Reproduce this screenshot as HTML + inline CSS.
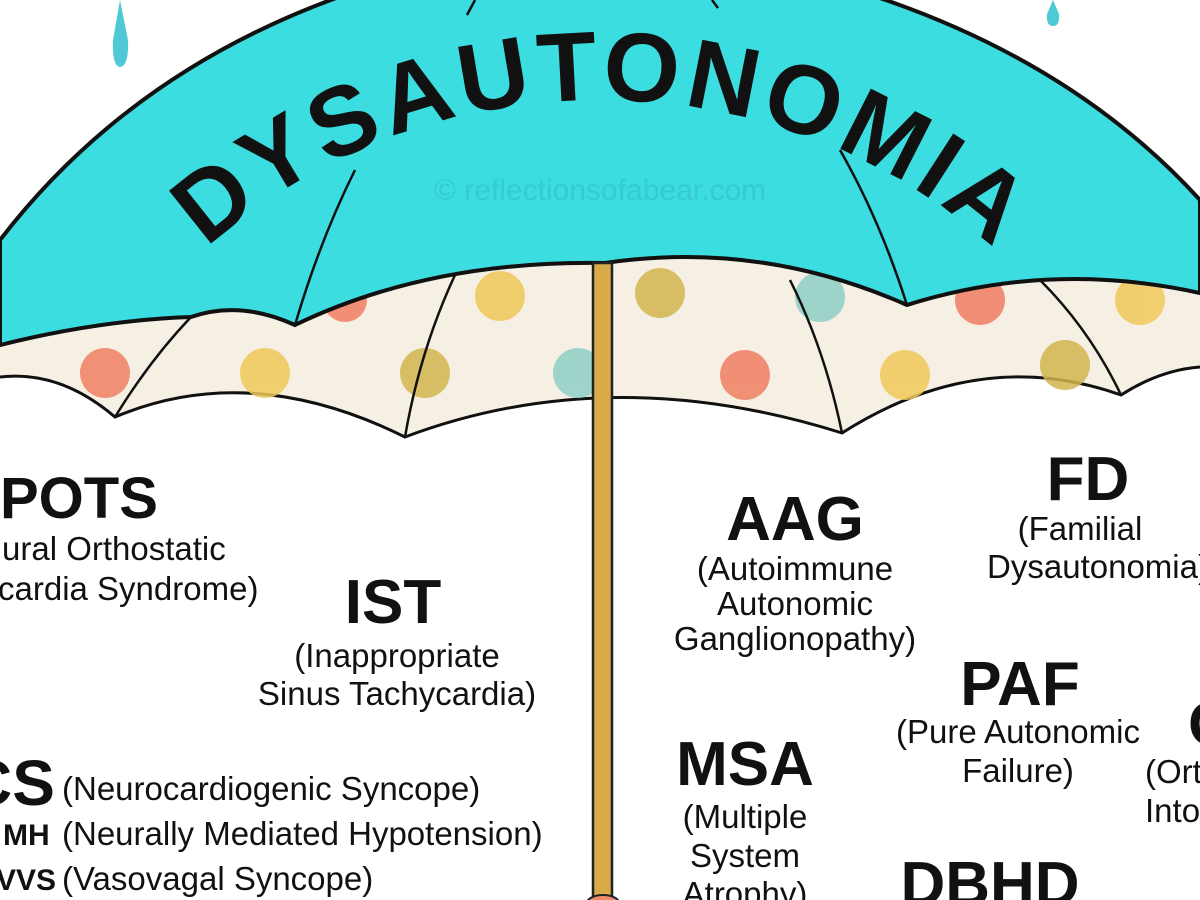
<!DOCTYPE html>
<html><head><meta charset="utf-8"><style>
html,body{margin:0;padding:0;background:#fff;}
svg{display:block}
text{font-family:"Liberation Sans",Arial,sans-serif;fill:#111}
.b{font-weight:bold}
.s{font-size:33px}
</style></head><body>
<svg width="1200" height="900" viewBox="0 0 1200 900" xmlns="http://www.w3.org/2000/svg">
<rect width="1200" height="900" fill="#fff"/>
<path d="M120 0 L113 40 Q112 66 120 67 Q129 66 128 40 Z" fill="#4fc9d3"/>
<path d="M1053 0 L1047 14 Q1046 26 1053 26 Q1060 26 1059 14 Z" fill="#4fc9d3"/>
<!-- polka underside -->
<path d="M0 340 L190 310 L600 255 L1200 270 L1200 367 Q1160 370 1121 395 Q980 345 842 433 Q610 360 405 437 Q250 360 115 417 Q60 370 0 377 Z" fill="#f6f0e4"/>
<path d="M1200 367 Q1160 370 1121 395 Q980 345 842 433 Q610 360 405 437 Q250 360 115 417 Q60 370 0 377" fill="none" stroke="#111" stroke-width="3"/>
<g opacity="0.85">
<circle cx="105" cy="373" r="25" fill="#ef7f62"/>
<circle cx="265" cy="373" r="25" fill="#f0c95a"/>
<circle cx="425" cy="373" r="25" fill="#d2b54d"/>
<circle cx="578" cy="373" r="25" fill="#8fcfc6"/>
<circle cx="500" cy="296" r="25" fill="#f0c95a"/>
<circle cx="345" cy="300" r="22" fill="#ef7f62"/>
<circle cx="660" cy="293" r="25" fill="#d2b54d"/>
<circle cx="820" cy="297" r="25" fill="#8fcfc6"/>
<circle cx="745" cy="375" r="25" fill="#ef7f62"/>
<circle cx="905" cy="375" r="25" fill="#f0c95a"/>
<circle cx="1065" cy="365" r="25" fill="#d2b54d"/>
<circle cx="980" cy="300" r="25" fill="#ef7f62"/>
<circle cx="1140" cy="300" r="25" fill="#f0c95a"/>
</g>
<g stroke="#111" stroke-width="2.5" fill="none">
<path d="M191 317 Q150 360 115 417"/>
<path d="M455 275 Q420 350 405 437"/>
<path d="M790 280 Q825 350 842 433"/>
<path d="M1040 280 Q1090 330 1121 395"/>
</g>
<!-- cyan canopy -->
<path d="M0 345 L0 240 Q200 -20 600 -60 Q1000 -20 1200 200 L1200 293 Q1050 260 907 305 Q760 240 605 263 Q430 260 295 325 Q240 300 191 317 Q100 320 0 345 Z" fill="#3bdde0" stroke="#111" stroke-width="4"/>
<g stroke="#111" stroke-width="2.5" fill="none">
<path d="M355 170 Q320 240 295 325"/>
<path d="M840 150 Q880 220 907 305"/>
<path d="M475 0 L467 15"/>
<path d="M712 0 L718 8"/>
</g>
<text x="600" y="200" text-anchor="middle" style="font-size:30px;fill:#35cbd0">© reflectionsofabear.com</text>
<path id="arc" d="M40 615 A560 515 0 0 1 1160 615" fill="none"/>
<text class="b" style="font-size:98px"><textPath href="#arc" startOffset="50%" text-anchor="middle" textLength="860" lengthAdjust="spacing">DYSAUTONOMIA</textPath></text>
<!-- pole -->
<rect x="593" y="263" width="19" height="640" fill="#d8ab48" stroke="#222" stroke-width="2.5"/>
<ellipse cx="603" cy="903" rx="16" ry="8" fill="#ef8a6a" stroke="#222" stroke-width="2"/>
<!-- left labels -->
<text class="b" x="0" y="518" style="font-size:58px">POTS</text>
<text class="s" x="2" y="560">ural Orthostatic</text>
<text class="s" x="-2" y="600">cardia Syndrome)</text>
<text class="b" x="393" y="623" text-anchor="middle" style="font-size:62px">IST</text>
<text class="s" x="397" y="667" text-anchor="middle">(Inappropriate</text>
<text class="s" x="397" y="705" text-anchor="middle">Sinus Tachycardia)</text>
<text class="b" x="-34" y="805" style="font-size:64px">CS</text>
<text class="s" x="62" y="800">(Neurocardiogenic Syncope)</text>
<text class="b" x="3" y="845" style="font-size:30px">MH</text>
<text class="s" x="62" y="845">(Neurally Mediated Hypotension)</text>
<text class="b" x="-4" y="890" style="font-size:30px">VVS</text>
<text class="s" x="62" y="890">(Vasovagal Syncope)</text>
<!-- right labels -->
<text class="b" x="795" y="540" text-anchor="middle" style="font-size:62px">AAG</text>
<text class="s" x="795" y="580" text-anchor="middle">(Autoimmune</text>
<text class="s" x="795" y="615" text-anchor="middle">Autonomic</text>
<text class="s" x="795" y="650" text-anchor="middle">Ganglionopathy)</text>
<text class="b" x="1088" y="500" text-anchor="middle" style="font-size:62px">FD</text>
<text class="s" x="1080" y="540" text-anchor="middle">(Familial</text>
<text class="s" x="1098" y="578" text-anchor="middle">Dysautonomia)</text>
<text class="b" x="1020" y="705" text-anchor="middle" style="font-size:62px">PAF</text>
<text class="s" x="1018" y="743" text-anchor="middle">(Pure Autonomic</text>
<text class="s" x="1018" y="782" text-anchor="middle">Failure)</text>
<text class="b" x="745" y="785" text-anchor="middle" style="font-size:62px">MSA</text>
<text class="s" x="745" y="828" text-anchor="middle">(Multiple</text>
<text class="s" x="745" y="867" text-anchor="middle">System</text>
<text class="s" x="745" y="905" text-anchor="middle">Atrophy)</text>
<text class="b" x="990" y="905" text-anchor="middle" style="font-size:62px">DBHD</text>
<text class="b" x="1188" y="745" style="font-size:62px">O</text>
<text class="s" x="1145" y="783">(Ort</text>
<text class="s" x="1145" y="822">Into</text>
</svg>
</body></html>
